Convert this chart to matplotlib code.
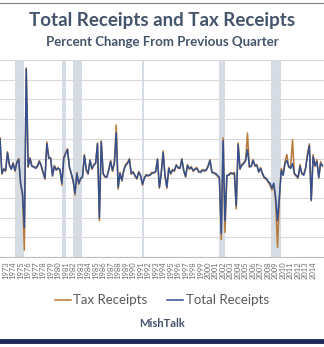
import numpy as np
import matplotlib.pyplot as plt

# quarterly % change, first point is 1972 Q1
start_year = 1972.0
total_receipts = [
    4.0, 0.5, 0.9, 0.8, 2.6, 1.4, 0.9, 1.5, 0.8, 1.6,
    1.9, -0.5, -1.5, -5.0, 11.1, 1.2, 2.0, 1.2, 1.2, 1.0,
    1.2, 1.7, 1.3, 0.6, 0.0, 3.5, 2.1, 2.0, 0.3, 1.2,
    0.9, 1.0, 0.9, -0.5, 2.0, 2.5, 2.9, 1.2, 0.5, -0.2,
    -1.5, 0.5, -0.5, 0.0, 0.1, 2.3, 0.9, 0.5, 1.8, 1.0,
    1.3, 1.5, 3.5, -4.0, 3.7, 0.5, 0.2, 0.1, 0.8, 1.7,
    0.8, 1.5, 4.6, -0.9, 0.5, -0.2, 0.8, 1.3, 1.5, 1.9,
    0.5, 0.6, 0.3, 0.0, 0.6, 0.3, -0.6, 0.0, 0.3, 0.3,
    0.3, 0.5, 0.6, 0.65, 1.9, -0.9, 0.5, 2.6, 0.3, -0.9,
    1.0, 0.5, 0.8, 0.8, 1.3, 1.1, 1.0, 1.9, 0.8, 0.2,
    1.3, 1.0, 1.1, 0.8, 0.9, 1.0, 0.7, 0.6, 0.8, 0.8,
    0.8, 1.2, 1.8, 0.65, 0.5, 0.5, 0.3, 0.1, -5.6, 3.8,
    -4.3, 0.3, 0.3, 0.5, 0.5, 0.5, -2.8, 3.4, 1.0, 1.3,
    1.5, 1.8, 2.9, 1.2, 1.2, 1.8, 1.3, 1.3, 0.65, 1.0,
    0.5, 0.1, 0.0, -0.3, -0.5, -1.0, -0.5, -1.9, -4.3, -1.9,
    0.8, 0.3, 1.5, 1.8, 1.2, 1.0, 1.5, 0.5, 0.3, 0.1,
    1.2, 0.5, 0.3, 1.0, 2.3, 3.3, -2.2, 2.2, 1.3, 1.7,
    0.1, 1.5, 1.3,
]
tax_receipts = [
    4.1, 0.4, 1.0, 0.7, 2.7, 1.3, 1.0, 1.6, 0.7, 1.7,
    2.0, -0.6, -1.7, -7.3, 11.2, 1.1, 2.1, 1.3, 1.1, 1.1,
    1.3, 1.8, 1.2, 0.5, -0.1, 3.7, 2.0, 2.1, 0.2, 1.3,
    0.8, 1.1, 0.8, -0.7, 2.1, 2.6, 3.0, 1.1, 0.4, -0.3,
    -1.7, 0.6, -0.6, -0.1, 0.2, 2.4, 0.8, 0.4, 1.9, 0.9,
    1.4, 1.6, 3.6, -4.3, 3.8, 0.4, 0.1, 0.2, 0.9, 1.8,
    0.7, 1.6, 5.4, -1.1, 0.6, -0.3, 0.9, 1.4, 1.6, 2.0,
    0.4, 0.7, 0.2, -0.1, 0.7, 0.2, -0.7, 0.1, 0.4, 0.2,
    0.4, 0.6, 0.5, 0.7, 2.0, -1.0, 0.6, 2.8, 0.2, -1.0,
    1.1, 0.4, 0.9, 0.7, 1.4, 1.0, 1.1, 2.0, 0.7, 0.1,
    1.4, 0.9, 1.2, 0.7, 1.0, 1.1, 0.6, 0.7, 0.9, 0.7,
    0.9, 1.3, 1.9, 0.6, 0.6, 0.4, 0.2, 0.0, -6.2, 4.1,
    -5.5, 0.2, 0.4, 0.6, 0.4, 0.6, -3.1, 3.6, 0.9, 1.4,
    1.6, 1.9, 4.6, 1.1, 1.3, 1.9, 1.2, 1.4, 0.6, 1.1,
    0.4, 0.0, -0.1, -0.4, -0.7, -1.2, -0.6, -2.3, -7.0, -2.2,
    1.0, 0.4, 1.7, 2.4, 1.1, 1.1, 3.9, 0.4, 0.2, 0.0,
    1.4, 0.4, 0.4, 1.1, 2.5, 3.5, -2.3, 2.4, 1.2, 1.9,
    0.0, 1.7, 1.2,
]
recessions = [(1974.0, 1975.2), (1980.27, 1980.8), (1981.73, 1982.93),
              (1990.93, 1991.2), (2001.2, 2002.0), (2008.13, 2009.47)]
year_labels = list(range(1973, 2015))

quarters = start_year + 0.25 * np.arange(len(total_receipts))

plt.rcParams['font.family'] = ['Lato', 'DejaVu Sans']
fig = plt.figure(figsize=(3.24, 3.47), dpi=100)
ax = fig.add_axes([0.0, 0.259, 1.0, 0.568])

for r0, r1 in recessions:
    ax.axvspan(r0, r1, color='#D6DCE4', lw=0, zorder=0)

ax.plot(quarters, tax_receipts, color='#B5793A', lw=1.1, label='Tax Receipts', zorder=3)
ax.plot(quarters, total_receipts, color='#34508F', lw=1.1, label='Total Receipts', zorder=4)

ax.set_xlim(1972.0, 2015.2)
ax.set_ylim(-8, 12)
ax.set_yticks(np.arange(-8, 13, 2))
ax.yaxis.grid(True, color='#D9D9D9', lw=0.8, zorder=1)
ax.set_axisbelow(True)
ax.tick_params(axis='y', left=False, labelleft=False)
ax.set_xticks([y - 0.25 for y in year_labels])
ax.set_xticklabels([str(y) for y in year_labels], rotation=90, fontsize=5.5,
                   color='#6E6E6E')
ax.tick_params(axis='x', length=0, pad=3)
for s in ['left', 'right', 'top']:
    ax.spines[s].set_visible(False)
ax.spines['bottom'].set_color('#BFBFBF')
ax.spines['bottom'].set_linewidth(0.8)

fig.text(0.5, 0.942, 'Total Receipts and Tax Receipts', ha='center', va='center',
         fontsize=13.5, fontweight='bold', color='#44546A')
fig.text(0.5, 0.879, 'Percent Change From Previous Quarter', ha='center', va='center',
         fontsize=9.5, fontweight='bold', color='#44546A')

fig.legend(loc='center', bbox_to_anchor=(0.5, 0.135), ncol=2, frameon=False,
           fontsize=9.5, labelcolor='#595959', handlelength=1.2, handletextpad=0.2,
           columnspacing=1.5)
fig.text(0.5, 0.069, 'MishTalk', ha='center', va='center', fontsize=8,
         fontweight='bold', color='#44546A')

# frame lines above and below
fig.add_artist(plt.Line2D([0, 1], [0.991, 0.991], color='#7F7F7F', lw=0.8))
fig.add_artist(plt.Line2D([0, 1], [0.017, 0.017], color='#1F2A5C', lw=3.5))

fig.savefig('out.png', dpi=100, facecolor='white')
